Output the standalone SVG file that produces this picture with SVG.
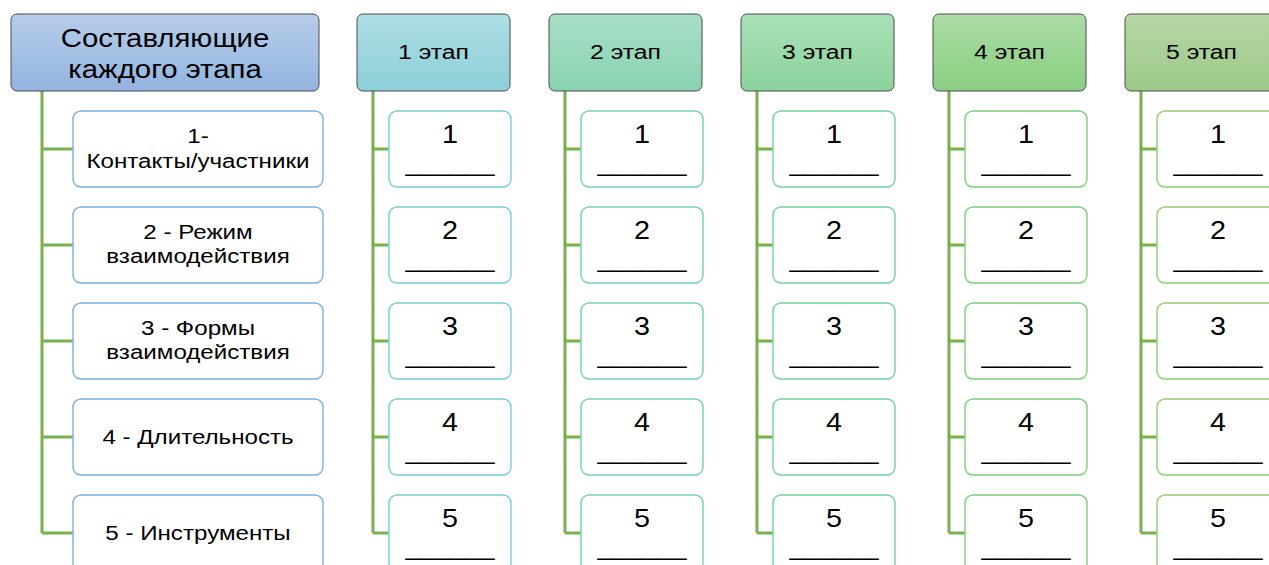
<svg xmlns="http://www.w3.org/2000/svg" width="1269" height="565" viewBox="0 0 1269 565">
<defs>
<linearGradient id="g0" x1="0" y1="0" x2="0" y2="1"><stop offset="0" stop-color="#b6cdea"/><stop offset="1" stop-color="#93b4df"/></linearGradient>
<linearGradient id="g1" x1="0" y1="0" x2="0" y2="1"><stop offset="0" stop-color="#aedee5"/><stop offset="1" stop-color="#8ccfd9"/></linearGradient>
<linearGradient id="g2" x1="0" y1="0" x2="0" y2="1"><stop offset="0" stop-color="#a8e0c8"/><stop offset="1" stop-color="#88d2b0"/></linearGradient>
<linearGradient id="g3" x1="0" y1="0" x2="0" y2="1"><stop offset="0" stop-color="#abe1b8"/><stop offset="1" stop-color="#8ad39b"/></linearGradient>
<linearGradient id="g4" x1="0" y1="0" x2="0" y2="1"><stop offset="0" stop-color="#abdca4"/><stop offset="1" stop-color="#8bce83"/></linearGradient>
<linearGradient id="g5" x1="0" y1="0" x2="0" y2="1"><stop offset="0" stop-color="#b6d7a5"/><stop offset="1" stop-color="#9cc989"/></linearGradient>
</defs>
<style>
.hd{stroke:#4d4d4d;stroke-width:1}
.ch{fill:#ffffff;stroke-width:1.4}
.c0{stroke:#78b3e2}.c1{stroke:#72d1d6}.c2{stroke:#70d3b3}.c3{stroke:#72d49c}.c4{stroke:#7ccf7b}.c5{stroke:#8fce70}
.t{font-family:"Liberation Sans",Arial,sans-serif;fill:#000;text-anchor:middle}
.ht{font-size:26px}.st{font-size:21px}.ct{font-size:21px}.nt{font-size:25px}.us{font-size:23px}
.cn{fill:none;stroke:#77b14a;stroke-width:3}
</style>

<g id="connectors">
<path class="cn" d="M42 91V533M42 149H73M42 245H73M42 341H73M42 437H73M42 533H73"/>
<path class="cn" d="M373 91V533M373 149H389M373 245H389M373 341H389M373 437H389M373 533H389"/>
<path class="cn" d="M565 91V533M565 149H581M565 245H581M565 341H581M565 437H581M565 533H581"/>
<path class="cn" d="M757 91V533M757 149H773M757 245H773M757 341H773M757 437H773M757 533H773"/>
<path class="cn" d="M949 91V533M949 149H965M949 245H965M949 341H965M949 437H965M949 533H965"/>
<path class="cn" d="M1141 91V533M1141 149H1157M1141 245H1157M1141 341H1157M1141 437H1157M1141 533H1157"/>
</g>

<g id="header0">
<rect class="hd" x="11" y="14" width="308" height="77" rx="6" fill="url(#g0)"/>
<g transform="translate(165,0) scale(1.13,1)"><text class="t ht" x="0" y="47">Составляющие</text><text class="t ht" x="0" y="78">каждого этапа</text></g>
</g>
<g id="c0-1"><rect class="ch c0" x="73" y="111" width="250" height="76" rx="8"/>
<g transform="translate(198,0) scale(1.15,1)"><text class="t ct" x="0" y="143">1-</text><text class="t ct" x="0" y="168">Контакты/участники</text></g></g>
<g id="c0-2"><rect class="ch c0" x="73" y="207" width="250" height="76" rx="8"/>
<g transform="translate(198,0) scale(1.15,1)"><text class="t ct" x="0" y="239">2 - Режим</text><text class="t ct" x="0" y="263">взаимодействия</text></g></g>
<g id="c0-3"><rect class="ch c0" x="73" y="303" width="250" height="76" rx="8"/>
<g transform="translate(198,0) scale(1.15,1)"><text class="t ct" x="0" y="335">3 - Формы</text><text class="t ct" x="0" y="359">взаимодействия</text></g></g>
<g id="c0-4"><rect class="ch c0" x="73" y="399" width="250" height="76" rx="8"/>
<g transform="translate(198,0) scale(1.15,1)"><text class="t ct" x="0" y="444">4 - Длительность</text></g></g>
<g id="c0-5"><rect class="ch c0" x="73" y="495" width="250" height="76" rx="8"/>
<g transform="translate(198,0) scale(1.15,1)"><text class="t ct" x="0" y="540">5 - Инструменты</text></g></g>

<g id="stage1">
<rect class="hd" x="357" y="14" width="153" height="77" rx="6" fill="url(#g1)"/>
<g transform="translate(433.5,0) scale(1.18,1)"><text class="t st" x="0" y="59">1 этап</text></g>
</g>
<g id="stage2">
<rect class="hd" x="549" y="14" width="153" height="77" rx="6" fill="url(#g2)"/>
<g transform="translate(625.5,0) scale(1.18,1)"><text class="t st" x="0" y="59">2 этап</text></g>
</g>
<g id="stage3">
<rect class="hd" x="741" y="14" width="153" height="77" rx="6" fill="url(#g3)"/>
<g transform="translate(817.5,0) scale(1.18,1)"><text class="t st" x="0" y="59">3 этап</text></g>
</g>
<g id="stage4">
<rect class="hd" x="933" y="14" width="153" height="77" rx="6" fill="url(#g4)"/>
<g transform="translate(1009.5,0) scale(1.18,1)"><text class="t st" x="0" y="59">4 этап</text></g>
</g>
<g id="stage5">
<rect class="hd" x="1125" y="14" width="153" height="77" rx="6" fill="url(#g5)"/>
<g transform="translate(1201.5,0) scale(1.18,1)"><text class="t st" x="0" y="59">5 этап</text></g>
</g>

<!-- stage children -->
<g id="s1-1"><rect class="ch c1" x="389" y="111" width="122" height="76" rx="8"/><g transform="translate(450,0) scale(1.15,1)"><text class="t nt" x="0" y="143">1</text></g><text class="t us" x="450" y="171" textLength="89" lengthAdjust="spacingAndGlyphs">______</text></g>
<g id="s1-2"><rect class="ch c1" x="389" y="207" width="122" height="76" rx="8"/><g transform="translate(450,0) scale(1.15,1)"><text class="t nt" x="0" y="239">2</text></g><text class="t us" x="450" y="267" textLength="89" lengthAdjust="spacingAndGlyphs">______</text></g>
<g id="s1-3"><rect class="ch c1" x="389" y="303" width="122" height="76" rx="8"/><g transform="translate(450,0) scale(1.15,1)"><text class="t nt" x="0" y="335">3</text></g><text class="t us" x="450" y="363" textLength="89" lengthAdjust="spacingAndGlyphs">______</text></g>
<g id="s1-4"><rect class="ch c1" x="389" y="399" width="122" height="76" rx="8"/><g transform="translate(450,0) scale(1.15,1)"><text class="t nt" x="0" y="431">4</text></g><text class="t us" x="450" y="459" textLength="89" lengthAdjust="spacingAndGlyphs">______</text></g>
<g id="s1-5"><rect class="ch c1" x="389" y="495" width="122" height="76" rx="8"/><g transform="translate(450,0) scale(1.15,1)"><text class="t nt" x="0" y="527">5</text></g><text class="t us" x="450" y="555" textLength="89" lengthAdjust="spacingAndGlyphs">______</text></g>

<g id="s2-1"><rect class="ch c2" x="581" y="111" width="122" height="76" rx="8"/><g transform="translate(642,0) scale(1.15,1)"><text class="t nt" x="0" y="143">1</text></g><text class="t us" x="642" y="171" textLength="89" lengthAdjust="spacingAndGlyphs">______</text></g>
<g id="s2-2"><rect class="ch c2" x="581" y="207" width="122" height="76" rx="8"/><g transform="translate(642,0) scale(1.15,1)"><text class="t nt" x="0" y="239">2</text></g><text class="t us" x="642" y="267" textLength="89" lengthAdjust="spacingAndGlyphs">______</text></g>
<g id="s2-3"><rect class="ch c2" x="581" y="303" width="122" height="76" rx="8"/><g transform="translate(642,0) scale(1.15,1)"><text class="t nt" x="0" y="335">3</text></g><text class="t us" x="642" y="363" textLength="89" lengthAdjust="spacingAndGlyphs">______</text></g>
<g id="s2-4"><rect class="ch c2" x="581" y="399" width="122" height="76" rx="8"/><g transform="translate(642,0) scale(1.15,1)"><text class="t nt" x="0" y="431">4</text></g><text class="t us" x="642" y="459" textLength="89" lengthAdjust="spacingAndGlyphs">______</text></g>
<g id="s2-5"><rect class="ch c2" x="581" y="495" width="122" height="76" rx="8"/><g transform="translate(642,0) scale(1.15,1)"><text class="t nt" x="0" y="527">5</text></g><text class="t us" x="642" y="555" textLength="89" lengthAdjust="spacingAndGlyphs">______</text></g>

<g id="s3-1"><rect class="ch c3" x="773" y="111" width="122" height="76" rx="8"/><g transform="translate(834,0) scale(1.15,1)"><text class="t nt" x="0" y="143">1</text></g><text class="t us" x="834" y="171" textLength="89" lengthAdjust="spacingAndGlyphs">______</text></g>
<g id="s3-2"><rect class="ch c3" x="773" y="207" width="122" height="76" rx="8"/><g transform="translate(834,0) scale(1.15,1)"><text class="t nt" x="0" y="239">2</text></g><text class="t us" x="834" y="267" textLength="89" lengthAdjust="spacingAndGlyphs">______</text></g>
<g id="s3-3"><rect class="ch c3" x="773" y="303" width="122" height="76" rx="8"/><g transform="translate(834,0) scale(1.15,1)"><text class="t nt" x="0" y="335">3</text></g><text class="t us" x="834" y="363" textLength="89" lengthAdjust="spacingAndGlyphs">______</text></g>
<g id="s3-4"><rect class="ch c3" x="773" y="399" width="122" height="76" rx="8"/><g transform="translate(834,0) scale(1.15,1)"><text class="t nt" x="0" y="431">4</text></g><text class="t us" x="834" y="459" textLength="89" lengthAdjust="spacingAndGlyphs">______</text></g>
<g id="s3-5"><rect class="ch c3" x="773" y="495" width="122" height="76" rx="8"/><g transform="translate(834,0) scale(1.15,1)"><text class="t nt" x="0" y="527">5</text></g><text class="t us" x="834" y="555" textLength="89" lengthAdjust="spacingAndGlyphs">______</text></g>

<g id="s4-1"><rect class="ch c4" x="965" y="111" width="122" height="76" rx="8"/><g transform="translate(1026,0) scale(1.15,1)"><text class="t nt" x="0" y="143">1</text></g><text class="t us" x="1026" y="171" textLength="89" lengthAdjust="spacingAndGlyphs">______</text></g>
<g id="s4-2"><rect class="ch c4" x="965" y="207" width="122" height="76" rx="8"/><g transform="translate(1026,0) scale(1.15,1)"><text class="t nt" x="0" y="239">2</text></g><text class="t us" x="1026" y="267" textLength="89" lengthAdjust="spacingAndGlyphs">______</text></g>
<g id="s4-3"><rect class="ch c4" x="965" y="303" width="122" height="76" rx="8"/><g transform="translate(1026,0) scale(1.15,1)"><text class="t nt" x="0" y="335">3</text></g><text class="t us" x="1026" y="363" textLength="89" lengthAdjust="spacingAndGlyphs">______</text></g>
<g id="s4-4"><rect class="ch c4" x="965" y="399" width="122" height="76" rx="8"/><g transform="translate(1026,0) scale(1.15,1)"><text class="t nt" x="0" y="431">4</text></g><text class="t us" x="1026" y="459" textLength="89" lengthAdjust="spacingAndGlyphs">______</text></g>
<g id="s4-5"><rect class="ch c4" x="965" y="495" width="122" height="76" rx="8"/><g transform="translate(1026,0) scale(1.15,1)"><text class="t nt" x="0" y="527">5</text></g><text class="t us" x="1026" y="555" textLength="89" lengthAdjust="spacingAndGlyphs">______</text></g>

<g id="s5-1"><rect class="ch c5" x="1157" y="111" width="122" height="76" rx="8"/><g transform="translate(1218,0) scale(1.15,1)"><text class="t nt" x="0" y="143">1</text></g><text class="t us" x="1218" y="171" textLength="89" lengthAdjust="spacingAndGlyphs">______</text></g>
<g id="s5-2"><rect class="ch c5" x="1157" y="207" width="122" height="76" rx="8"/><g transform="translate(1218,0) scale(1.15,1)"><text class="t nt" x="0" y="239">2</text></g><text class="t us" x="1218" y="267" textLength="89" lengthAdjust="spacingAndGlyphs">______</text></g>
<g id="s5-3"><rect class="ch c5" x="1157" y="303" width="122" height="76" rx="8"/><g transform="translate(1218,0) scale(1.15,1)"><text class="t nt" x="0" y="335">3</text></g><text class="t us" x="1218" y="363" textLength="89" lengthAdjust="spacingAndGlyphs">______</text></g>
<g id="s5-4"><rect class="ch c5" x="1157" y="399" width="122" height="76" rx="8"/><g transform="translate(1218,0) scale(1.15,1)"><text class="t nt" x="0" y="431">4</text></g><text class="t us" x="1218" y="459" textLength="89" lengthAdjust="spacingAndGlyphs">______</text></g>
<g id="s5-5"><rect class="ch c5" x="1157" y="495" width="122" height="76" rx="8"/><g transform="translate(1218,0) scale(1.15,1)"><text class="t nt" x="0" y="527">5</text></g><text class="t us" x="1218" y="555" textLength="89" lengthAdjust="spacingAndGlyphs">______</text></g>
</svg>
